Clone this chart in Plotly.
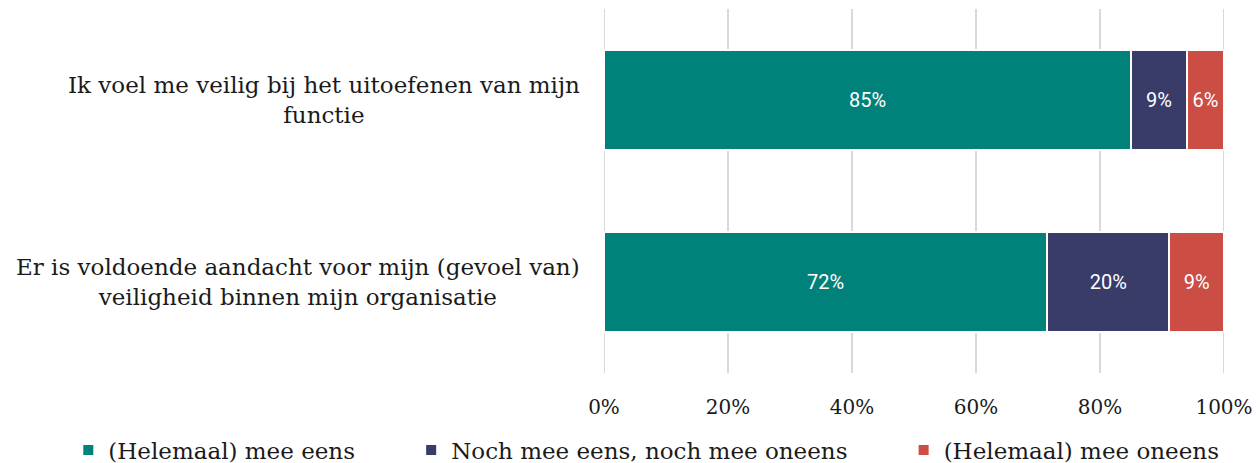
import plotly.graph_objects as go

categories = [
    "Ik voel me veilig bij het uitoefenen van mijn<br>functie",
    "Er is voldoende aandacht voor mijn (gevoel van)<br>veiligheid binnen mijn organisatie",
]
series_names = [
    "(Helemaal) mee eens",
    "Noch mee eens, noch mee oneens",
    "(Helemaal) mee oneens",
]
agree = [85.0, 71.5]
neutral = [9.0, 19.7]
disagree = [6.0, 8.8]
colors = ["#00827A", "#393B69", "#CB4D44"]
tick_vals = [0, 20, 40, 60, 80, 100]
tick_text = ["0%", "20%", "40%", "60%", "80%", "100%"]

SERIF = "DejaVu Serif"
SANS = "Roboto"
GRID = "#d9d9d9"

fig = go.Figure()
pad = "\u00a0" * 7
for i, (name, vals, col) in enumerate(zip(series_names, [agree, neutral, disagree], colors)):
    fig.add_trace(go.Bar(
        y=categories, x=vals, orientation="h",
        name=name + (pad if i < 2 else ""),
        marker=dict(color=col, line=dict(color="white", width=2)),
        texttemplate="%{x:.0f}%", textposition="inside",
        insidetextanchor="middle", textangle=0, constraintext="none",
        textfont=dict(family=SANS, size=20, color="white"),
        hoverinfo="skip",
    ))

for cat in categories:
    fig.add_annotation(
        x=-0.035, xref="paper", y=cat, yref="y", text=cat,
        xanchor="right", yanchor="middle", align="center", showarrow=False,
        font=dict(family=SERIF, size=23, color="#1a1a1a"),
    )

# gridlines at the range ends (Plotly omits them at the plot edges)
for xv in (tick_vals[0], tick_vals[-1]):
    fig.add_shape(type="line", x0=xv, x1=xv, xref="x", y0=0, y1=1, yref="paper",
                  line=dict(color=GRID, width=2), layer="below")

fig.update_layout(
    barmode="stack", bargap=0.455,
    width=1252, height=455,
    margin=dict(l=596, r=36, t=1, b=90, autoexpand=False),
    plot_bgcolor="white", paper_bgcolor="white",
    showlegend=True,
    legend=dict(orientation="h", xref="paper", x=-0.864, xanchor="left",
                yref="paper", y=-0.2115, yanchor="middle",
                borderwidth=0,
                font=dict(family=SERIF, size=23, color="#1a1a1a"),
                traceorder="normal"),
    xaxis=dict(range=[0, 100], tickvals=tick_vals, ticktext=tick_text,
               showgrid=True, gridcolor=GRID, gridwidth=2,
               zeroline=False, showline=False, ticklabelstandoff=20,
               automargin=False,
               tickfont=dict(family=SERIF, size=20, color="#1a1a1a")),
    yaxis=dict(autorange="reversed", showticklabels=False, showgrid=False,
               zeroline=False, showline=False, automargin=False),
)

fig.write_html("out.html")
